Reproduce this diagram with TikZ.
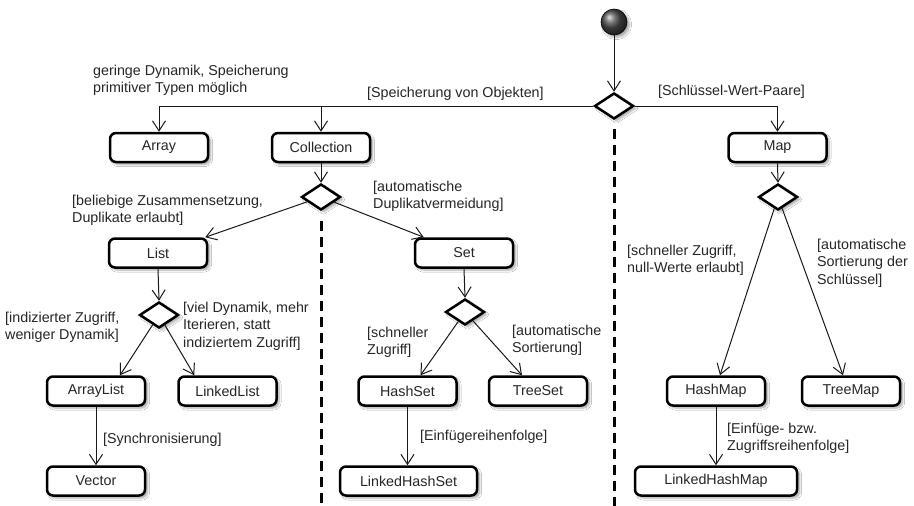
\documentclass[tikz,border=0pt]{standalone}
\usepackage{fontspec}
\setmainfont{Liberation Sans}
\usetikzlibrary{arrows.meta,shapes.geometric,shadows.blur}

\newcommand\lblfont{\fontsize{14.3}{17.6}\selectfont}

\tikzset{
  softshadow/.style={blur shadow={shadow xshift=2.5pt, shadow yshift=-2.5pt,
      shadow blur steps=6, shadow opacity=35}},
  act/.style={draw, line width=2.5pt, rounded corners=6pt, fill=white,
      minimum width=98pt, minimum height=29pt, inner sep=0pt,
      font=\lblfont, text=black!85, softshadow},
  choice/.style={draw, diamond, line width=2.5pt, fill=white,
      minimum width=39pt, minimum height=26pt, inner sep=0pt, softshadow},
  flow/.style={line width=1pt, draw=black!90,
      -{Straight Barb[length=10pt, width=13pt, line width=1pt]}},
  guard/.style={anchor=north west, align=left, inner sep=0pt,
      font=\lblfont, text=black!85},
  lane/.style={line width=3pt, dash pattern=on 10pt off 6pt},
}

\begin{document}
\begin{tikzpicture}[x=1pt, y=-1pt]
  \fill[white] (0,0) rectangle (914,506);
  \useasboundingbox (0,0) rectangle (914,506);

  % initial node and first decision
  \node[circle, minimum size=26pt, inner sep=0pt, draw=black, line width=0.6pt,
        ball color=black!70, softshadow] (start) at (614,22) {};
  \node[choice] (d0) at (614,106) {};

  % first level
  \node[act] (array)      at (159,147.5) {Array};
  \node[act] (collection) at (321,147.5) {Collection};
  \node[act] (map)        at (777.5,147.5) {Map};

  % decisions below collection and map
  \node[choice] (dcol) at (321,197) {};
  \node[choice] (dmap) at (778,197) {};

  % lists and sets
  \node[act] (list) at (158,253) {List};
  \node[act] (set)  at (464,253) {Set};
  \node[choice] (dlist) at (159,315) {};
  \node[choice] (dset)  at (465,312) {};

  % concrete classes
  \node[act] (arraylist)  at (96,391)    {ArrayList};
  \node[act] (linkedlist) at (227.5,391) {LinkedList};
  \node[act] (hashset)    at (407.5,391) {HashSet};
  \node[act] (treeset)    at (538,391)   {TreeSet};
  \node[act] (hashmap)    at (716,391)   {HashMap};
  \node[act] (treemap)    at (851,391)   {TreeMap};
  \node[act] (vector)     at (96,481)    {Vector};
  \node[act, minimum width=137pt] (linkedhashset) at (408.5,481) {LinkedHashSet};
  \node[act, minimum width=162pt] (linkedhashmap) at (716,481)   {LinkedHashMap};

  % swimlane separators
  \coordinate (floor) at (0,506);
  \draw[lane] ([yshift=-9pt]d0.south) -- (d0.south |- floor);
  \draw[lane] ([yshift=-10pt]dcol.south) -- (dcol.south |- floor);

  % control flow
  \draw[flow] (start) -- (d0);
  \draw[flow] (d0.west) -| (array.north);
  \draw[flow] (d0.west -| collection.north) -- (collection.north);
  \draw[flow] (d0.east) -| (map.north);

  \draw[flow] (collection.south) -- (dcol.north);
  \draw[flow] (dcol) -- ([xshift=-3pt]list.north east);
  \draw[flow] (dcol) -- ([xshift=10pt]set.north west);

  \draw[flow] (list.south) -- (dlist.north);
  \draw[flow] (dlist) -- ([xshift=24pt]arraylist.north);
  \draw[flow] (dlist) -- ([xshift=17pt]linkedlist.north west);
  \draw[flow] (arraylist.south) -- (vector.north);

  \draw[flow] (set.south) -- (dset.north);
  \draw[flow] (dset) -- ([xshift=13pt]hashset.north);
  \draw[flow] (dset) -- ([xshift=-16pt]treeset.north);
  \draw[flow] (hashset.south) -- (hashset.south |- linkedhashset.north);

  \draw[flow] (map.south) -- (dmap.north);
  \draw[flow] (dmap) -- ([xshift=4pt]hashmap.north);
  \draw[flow] (dmap) -- ([xshift=-8pt]treemap.north);
  \draw[flow] (hashmap.south) -- (linkedhashmap.north);

  % guards and notes
  \node[guard] (g1)  at (93,64.5)   {geringe Dynamik, Speicherung\\primitiver Typen möglich};
  \node[guard] (g2)  at (367,86.5)  {[Speicherung von Objekten]};
  \node[guard] (g3)  at (658,84.5)  {[Schlüssel-Wert-Paare]};
  \node[guard] (g4)  at (72,194.5)  {[beliebige Zusammensetzung,\\Duplikate erlaubt]};
  \node[guard] (g5)  at (373,180.5) {[automatische\\Duplikatvermeidung]};
  \node[guard] (g6)  at (183,301.5) {[viel Dynamik, mehr\\Iterieren, statt\\indiziertem Zugriff]};
  \node[guard] (g7)  at (5,311.5)   {[indizierter Zugriff,\\weniger Dynamik]};
  \node[guard] (g8)  at (103,432.5) {[Synchronisierung]};
  \node[guard] (g9)  at (367,326.5) {[schneller\\Zugriff]};
  \node[guard] (g10) at (512,324.5) {[automatische\\Sortierung]};
  \node[guard] (g11) at (420,429.5) {[Einfügereihenfolge]};
  \node[guard] (g12) at (627,244.5) {[schneller Zugriff,\\null-Werte erlaubt]};
  \node[guard] (g13) at (817,238.5) {[automatische\\Sortierung der\\Schlüssel]};
  \node[guard] (g14) at (727,422.5) {[Einfüge- bzw.\\Zugriffsreihenfolge]};
\end{tikzpicture}
\end{document}
